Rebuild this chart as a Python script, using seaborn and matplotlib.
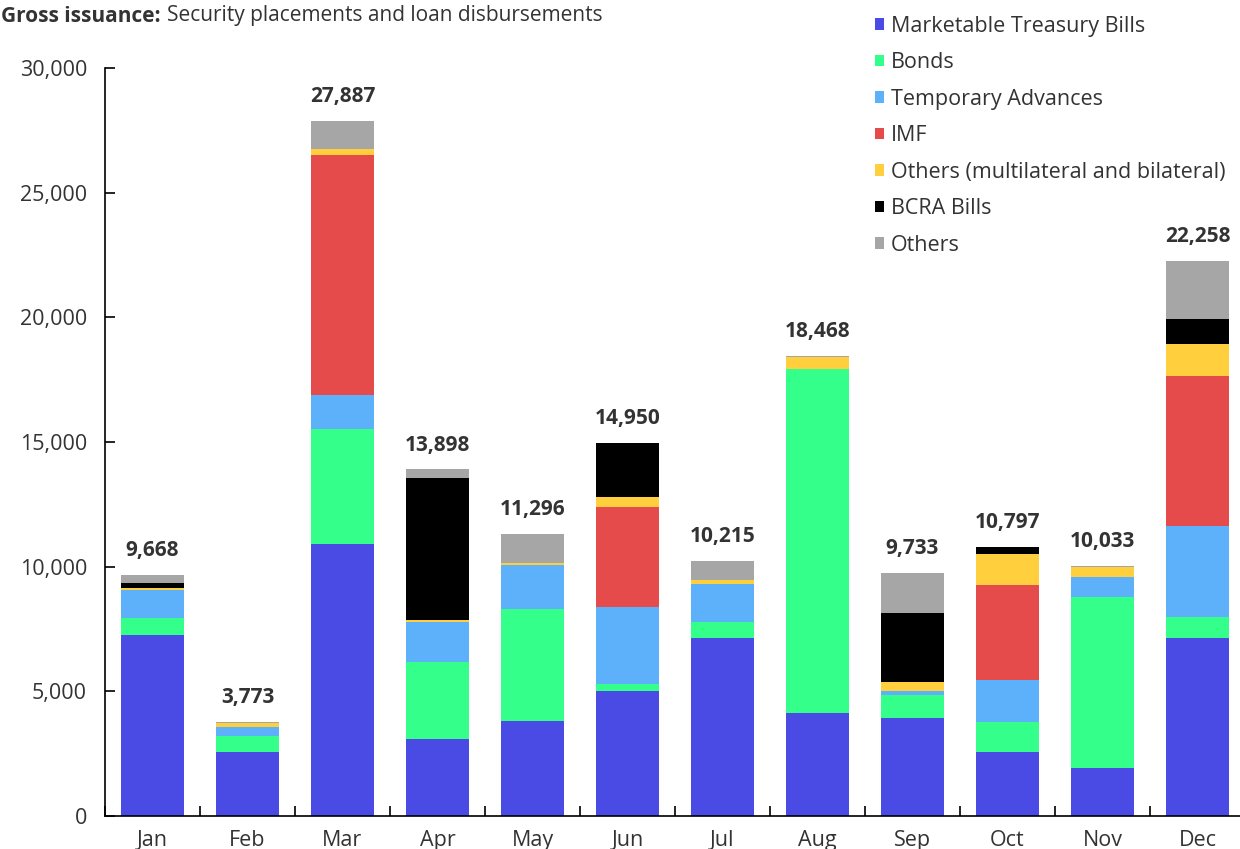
import numpy as np
import pandas as pd
import matplotlib
matplotlib.use("Agg")
import matplotlib.pyplot as plt
from matplotlib.patches import Patch
from matplotlib.ticker import FuncFormatter
import seaborn as sns

months = ["Jan", "Feb", "Mar", "Apr", "May", "Jun",
          "Jul", "Aug", "Sep", "Oct", "Nov", "Dec"]

series_names = ["Marketable Treasury Bills", "Bonds", "Temporary Advances", "IMF",
                "Others (multilateral and bilateral)", "BCRA Bills", "Others"]

treasury_bills = [7270, 2575, 10920, 3080, 3815, 5030, 7120, 4120, 3950, 2550, 1915, 7130]
bonds = [690, 640, 4600, 3095, 4505, 260, 655, 13800, 920, 1235, 6885, 870]
temporary_advances = [1120, 360, 1360, 1612, 1735, 3110, 1545, 0, 130, 1650, 800, 3650]
imf = [0, 0, 9640, 0, 0, 4000, 0, 0, 0, 3840, 0, 6000]
others_multi_bilateral = [60, 145, 240, 80, 90, 410, 150, 495, 370, 1232, 400, 1280]
bcra_bills = [200, 0, 0, 5680, 0, 2140, 0, 0, 2760, 290, 0, 1020]
others = [328, 53, 1127, 351, 1151, 0, 745, 53, 1603, 0, 33, 2308]

totals = [9668, 3773, 27887, 13898, 11296, 14950, 10215, 18468, 9733, 10797, 10033, 22258]

colors = ["#4A4AE5", "#33FF8A", "#5DB1FB", "#E54B4B", "#FFCF3D", "#000000", "#A6A6A6"]

layers = [treasury_bills, bonds, temporary_advances, imf,
          others_multi_bilateral, bcra_bills, others]

text_color = "#333333"

sns.set_theme(style="white")
plt.rcParams["font.family"] = ["Open Sans", "DejaVu Sans"]

fig = plt.figure(figsize=(12.4, 8.49), dpi=100)
ax = fig.add_axes([105 / 1240, 33 / 849, 1140 / 1240, 748 / 849])

# Stacked bars: draw cumulative totals from the top layer down so each
# lower layer covers the part of the taller bar beneath it.
cum = np.cumsum(np.array(layers, dtype=float), axis=0)
for i in range(len(layers) - 1, -1, -1):
    df = pd.DataFrame({"month": months, "value": cum[i]})
    sns.barplot(data=df, x="month", y="value", color=colors[i], saturation=1,
                width=0.66, linewidth=0, ax=ax, errorbar=None)

# Total labels above each bar
for i, tot in enumerate(totals):
    ax.annotate(f"{tot:,}", xy=(i, tot), xytext=(0, 10), textcoords="offset points",
                ha="center", va="bottom", fontsize=15, fontweight="bold",
                color=text_color)

ax.set_xlim(-0.5, 11.5)
ax.set_ylim(0, 30000)
ax.set_xlabel("")
ax.set_ylabel("")

ax.set_yticks(np.arange(0, 30001, 5000))
ax.yaxis.set_major_formatter(FuncFormatter(lambda v, p: f"{int(v):,}"))
ax.tick_params(axis="y", direction="in", length=7, width=1.2, left=True,
               labelsize=15.5, labelcolor=text_color, pad=13, color="black")

ax.set_xticks(range(12))
ax.set_xticklabels(months)
ax.tick_params(axis="x", which="major", length=0, labelsize=15.5,
               labelcolor=text_color, pad=10)
ax.set_xticks(np.arange(-0.5, 12, 1), minor=True)
ax.tick_params(axis="x", which="minor", direction="in", length=7, width=1.2,
               bottom=True, color="black")

for side in ["top", "right"]:
    ax.spines[side].set_visible(False)
for side in ["left", "bottom"]:
    ax.spines[side].set_color("black")
    ax.spines[side].set_linewidth(1.2)
ax.grid(False)

# Title: bold lead-in followed by the regular description
t1 = fig.text(1 / 1240, 1 - 16 / 849, "Gross issuance:", fontsize=15,
              fontweight="bold", color=text_color, ha="left", va="center")
fig.canvas.draw()
bb = t1.get_window_extent()
fig.text((bb.x1 + 6) / 1240, 1 - 16 / 849, "Security placements and loan disbursements",
         fontsize=15, color=text_color, ha="left", va="center")

# Legend
handles = [Patch(facecolor=c, edgecolor="none") for c in colors]
fig.legend(handles, series_names, loc="upper left",
           bbox_to_anchor=(866 / 1240, 1 - 7 / 849), frameon=False,
           fontsize=15.5, labelcolor=text_color, handlelength=0.42,
           handleheight=0.42, handletextpad=0.35, labelspacing=0.72,
           borderaxespad=0)

fig.savefig("out.png", dpi=100)
